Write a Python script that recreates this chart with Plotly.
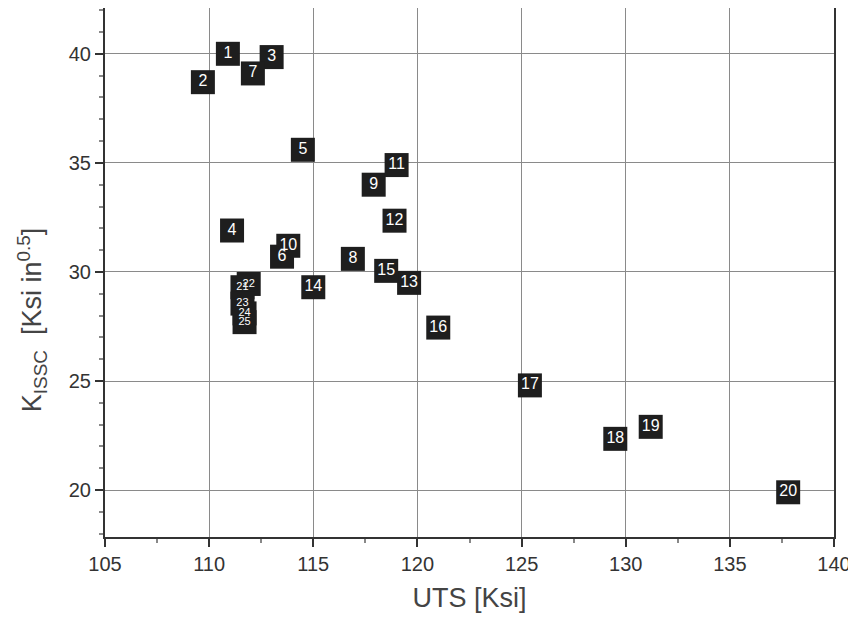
import plotly.graph_objects as go

labels = ["1", "2", "3", "4", "5", "6", "7", "8", "9", "10",
          "11", "12", "13", "14", "15", "16", "17", "18", "19", "20",
          "21", "22", "23", "24", "25"]
uts = [110.9, 109.7, 113.0, 111.1, 114.5, 113.5, 112.1, 116.9, 117.9, 113.8,
       119.0, 118.9, 119.6, 115.0, 118.5, 121.0, 125.4, 129.5, 131.2, 137.8,
       111.6, 111.9, 111.6, 111.7, 111.7]
kissc = [40.0, 38.7, 39.85, 31.9, 35.6, 30.7, 39.1, 30.6, 34.0, 31.2,
         34.9, 32.35, 29.5, 29.3, 30.05, 27.45, 24.8, 22.35, 22.9, 19.9,
         29.3, 29.45, 28.55, 28.1, 27.7]

font = "Liberation Sans, Arial, sans-serif"
label_sizes = [16 if int(s) <= 20 else 11 for s in labels]

fig = go.Figure()
fig.add_trace(go.Scatter(
    x=uts, y=kissc, mode="markers+text", text=labels,
    textposition="middle center",
    textfont=dict(family=font, size=label_sizes, color="white"),
    marker=dict(symbol="square", size=24, color="#1e1e1e",
                line=dict(width=0)),
    cliponaxis=False, showlegend=False,
))

axis_common = dict(
    showline=True, linecolor="#333333", linewidth=2, mirror=True,
    showgrid=True, gridcolor="#8a8a8a", gridwidth=1,
    ticks="outside", ticklen=8, tickwidth=2, tickcolor="#333333",
    tickfont=dict(family=font, size=20, color="#333333"),
    zeroline=False,
)

fig.update_xaxes(
    range=[105, 140], dtick=5, tick0=105,
    minor=dict(ticks="outside", dtick=2.5, ticklen=4, tickcolor="#888888", showgrid=False),
    title=dict(text="UTS [Ksi]", font=dict(family=font, size=27, color="#444444"), standoff=14),
    **axis_common,
)
fig.update_yaxes(
    range=[17.85, 42.1], dtick=5, tick0=20,
    minor=dict(ticks="outside", dtick=1, ticklen=4, tickcolor="#888888", showgrid=False),
    **axis_common,
)

fig.add_annotation(
    text="K<sub>ISSC</sub>  [Ksi in<sup>0.5</sup>]",
    xref="paper", yref="paper", x=-0.1, y=0.41,
    xanchor="center", yanchor="middle", textangle=-90, showarrow=False,
    font=dict(family=font, size=27, color="#444444"),
)

fig.update_layout(
    width=856, height=621,
    margin=dict(l=97, r=30, t=0, b=92, autoexpand=False),
    paper_bgcolor="white", plot_bgcolor="white",
)

fig.write_html("out.html")
